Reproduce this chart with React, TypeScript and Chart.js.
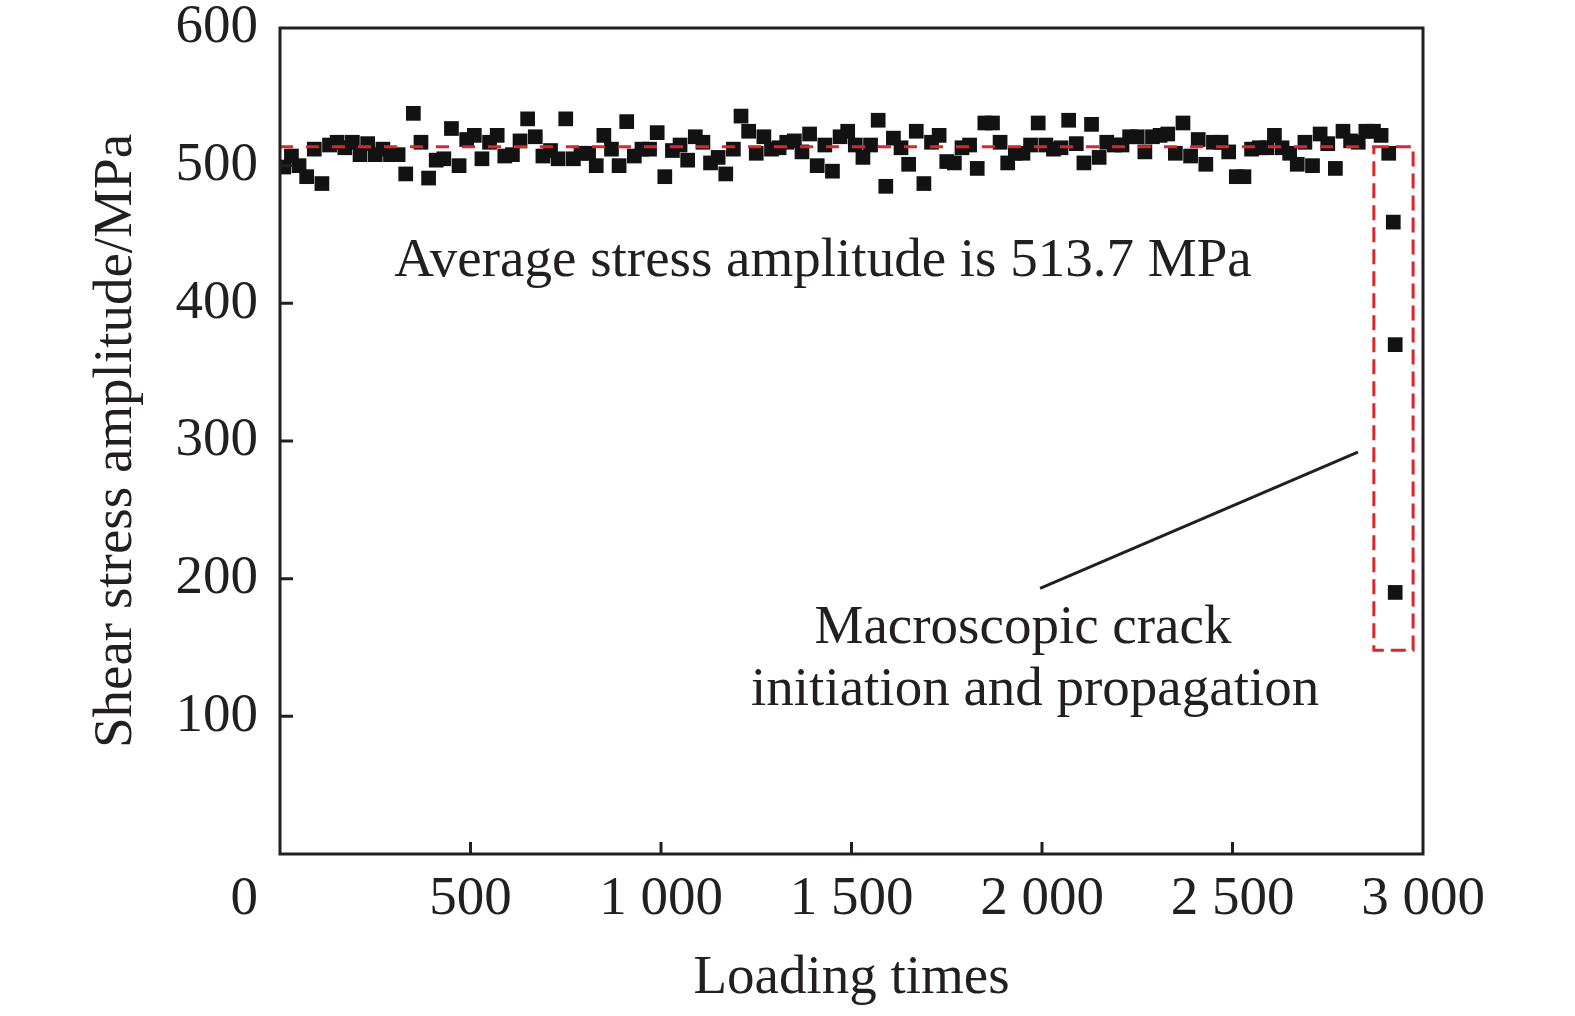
import { useEffect, useRef } from 'react';
import { Chart, registerables } from 'chart.js';

Chart.register(...registerables);

// ---- data ----
const cycles = [
  10, 30, 50, 70, 90, 110, 130, 150, 170, 190,
  210, 230, 250, 270, 290, 310, 330, 350, 370, 390,
  410, 430, 450, 470, 490, 510, 530, 550, 570, 590,
  610, 630, 650, 670, 690, 710, 730, 750, 770, 790,
  810, 830, 850, 870, 890, 910, 930, 950, 970, 990,
  1010, 1030, 1050, 1070, 1090, 1110, 1130, 1150, 1170, 1190,
  1210, 1230, 1250, 1270, 1290, 1310, 1330, 1350, 1370, 1390,
  1410, 1430, 1450, 1470, 1490, 1510, 1530, 1550, 1570, 1590,
  1610, 1630, 1650, 1670, 1690, 1710, 1730, 1750, 1770, 1790,
  1810, 1830, 1850, 1870, 1890, 1910, 1930, 1950, 1970, 1990,
  2010, 2030, 2050, 2070, 2090, 2110, 2130, 2150, 2170, 2190,
  2210, 2230, 2250, 2270, 2290, 2310, 2330, 2350, 2370, 2390,
  2410, 2430, 2450, 2470, 2490, 2510, 2530, 2550, 2570, 2590,
  2610, 2630, 2650, 2670, 2690, 2710, 2730, 2750, 2770, 2790,
  2810, 2830, 2850, 2870, 2890, 2910,
  2922, 2927, 2927,
];

const amplitude = [
  499, 507, 500, 492, 512, 487, 515, 517, 513, 517,
  508, 516, 508, 512, 508, 508, 494, 538, 517, 491,
  504, 505, 527, 500, 519, 522, 505, 517, 522, 507,
  508, 518, 534, 521, 507, 511, 505, 534, 505, 509,
  509, 500, 522, 512, 500, 532, 507, 512, 512, 524,
  492, 511, 515, 504, 521, 517, 502, 506, 494, 512,
  536, 525, 509, 521, 512, 513, 517, 518, 510, 523,
  500, 515, 496, 521, 525, 515, 506, 515, 533, 485,
  520, 513, 501, 525, 487, 517, 522, 503, 502, 513,
  515, 498, 531, 531, 517, 502, 509, 509, 515, 531,
  515, 512, 513, 533, 516, 502, 530, 506, 517, 515,
  515, 521, 521, 510, 521, 522, 523, 509, 531, 507,
  519, 501, 517, 517, 510, 492, 492, 512, 513, 513,
  522, 513, 509, 501, 517, 500, 523, 516, 498, 525,
  518, 517, 525, 525, 522, 509,
  459, 370, 190,
];

const averageStress = 513.7;
const averageFrom = 0;
const averageTo = 2871;

// dashed box around the crack points
const boxX = [2871, 2974];
const boxY = [148, 513.7];

// leader line from the label to the box
const leaderX = [1995, 2829];
const leaderY = [193, 292];

const xTickValues = [500, 1000, 1500, 2000, 2500];
const yTickValues = [100, 200, 300, 400, 500];

const averageLabel = 'Average stress amplitude is 513.7 MPa';
const crackLabel = ['Macroscopic crack', 'initiation and propagation'];

const FONT = '"Liberation Serif", "Times New Roman", serif';
const INK = '#231f20';
const RED = '#d9272e';

const fmtThousands = (v: number) => String(v).replace(/\B(?=(\d{3})+(?!\d))/g, ' ');

const framePlugin = {
  id: 'frame',
  afterDatasetsDraw(chart: Chart) {
    const { ctx, chartArea: a, scales } = chart;
    const x = scales.x;
    const y = scales.y;
    ctx.save();
    ctx.strokeStyle = INK;
    ctx.lineWidth = 3;
    ctx.strokeRect(a.left, a.top, a.right - a.left, a.bottom - a.top);

    // inward ticks on left and bottom
    ctx.beginPath();
    yTickValues.forEach((v) => {
      const py = y.getPixelForValue(v);
      ctx.moveTo(a.left, py);
      ctx.lineTo(a.left + 13, py);
    });
    xTickValues.forEach((v) => {
      const px = x.getPixelForValue(v);
      ctx.moveTo(px, a.bottom);
      ctx.lineTo(px, a.bottom - 12);
    });
    ctx.stroke();

    ctx.fillStyle = INK;
    ctx.font = `55px ${FONT}`;
    ctx.textBaseline = 'middle';

    // shared origin label
    ctx.textAlign = 'right';
    ctx.fillText('0', a.left - 22, a.bottom + 46);

    ctx.textAlign = 'center';
    ctx.fillText(averageLabel, x.getPixelForValue(1425), y.getPixelForValue(430.5));
    ctx.fillText(crackLabel[0], x.getPixelForValue(1950), y.getPixelForValue(163.5));
    ctx.fillText(crackLabel[1], x.getPixelForValue(1982), y.getPixelForValue(118.5));
    ctx.restore();
  },
};

export default function App() {
  const canvasRef = useRef<HTMLCanvasElement>(null);

  useEffect(() => {
    if (!canvasRef.current) return;

    const chart = new Chart(canvasRef.current, {
      type: 'scatter',
      data: {
        datasets: [
          {
            label: 'average',
            data: [
              { x: averageFrom, y: averageStress },
              { x: averageTo, y: averageStress },
            ],
            showLine: true,
            borderColor: RED,
            borderWidth: 3,
            borderDash: [13, 13],
            pointRadius: 0,
            order: 0,
          },
          {
            label: 'box',
            data: [
              { x: boxX[0], y: boxY[1] },
              { x: boxX[1], y: boxY[1] },
              { x: boxX[1], y: boxY[0] },
              { x: boxX[0], y: boxY[0] },
              { x: boxX[0], y: boxY[1] },
            ],
            showLine: true,
            borderColor: RED,
            borderWidth: 3,
            borderDash: [15, 7],
            pointRadius: 0,
            order: 0,
          },
          {
            label: 'leader',
            data: leaderX.map((v, i) => ({ x: v, y: leaderY[i] })),
            showLine: true,
            borderColor: INK,
            borderWidth: 3,
            pointRadius: 0,
            order: 0,
          },
          {
            label: 'Shear stress amplitude',
            data: cycles.map((c, i) => ({ x: c, y: amplitude[i] })),
            pointStyle: 'rect',
            pointRadius: 10.4,
            backgroundColor: '#121212',
            borderWidth: 0,
            order: 1,
          },
        ],
      },
      options: {
        responsive: true,
        maintainAspectRatio: false,
        animation: false,
        events: [],
        layout: { padding: { top: 28, right: 152, bottom: 0, left: 0 } },
        scales: {
          x: {
            type: 'linear',
            min: 0,
            max: 3000,
            grid: { display: false, drawTicks: false },
            border: { display: false },
            ticks: {
              stepSize: 500,
              autoSkip: false,
              maxRotation: 0,
              padding: 18.5,
              color: INK,
              font: { family: FONT, size: 55, lineHeight: 1 },
              callback: (v) => (Number(v) === 0 ? '' : fmtThousands(Number(v))),
            },
            title: {
              display: true,
              text: 'Loading times',
              color: INK,
              font: { family: FONT, size: 55 },
              padding: { top: 0, bottom: 4 },
            },
            afterFit: (s) => {
              s.height = 162;
              s.paddingLeft = 0;
              s.paddingRight = 0;
            },
          },
          y: {
            type: 'linear',
            min: 0,
            max: 600,
            grid: { display: false, drawTicks: false },
            border: { display: false },
            ticks: {
              stepSize: 100,
              padding: 22,
              color: INK,
              font: { family: FONT, size: 55, lineHeight: 1 },
              callback: (v) => (Number(v) === 0 ? '' : String(v)),
            },
            title: {
              display: true,
              text: 'Shear stress amplitude/MPa',
              color: INK,
              font: { family: FONT, size: 55 },
              padding: { top: 84, bottom: 0 },
            },
            afterFit: (s) => {
              s.width = 280;
              s.paddingTop = 0;
              s.paddingBottom = 0;
            },
          },
        },
        plugins: {
          legend: { display: false },
          tooltip: { enabled: false },
        },
      },
      plugins: [framePlugin],
    });

    return () => { chart.destroy(); };
  }, []);

  return (
    <div style={{ position: 'fixed', left: 0, top: 0, width: 1575, height: 1016, background: '#fff' }}>
      <canvas ref={canvasRef} />
    </div>
  );
}
